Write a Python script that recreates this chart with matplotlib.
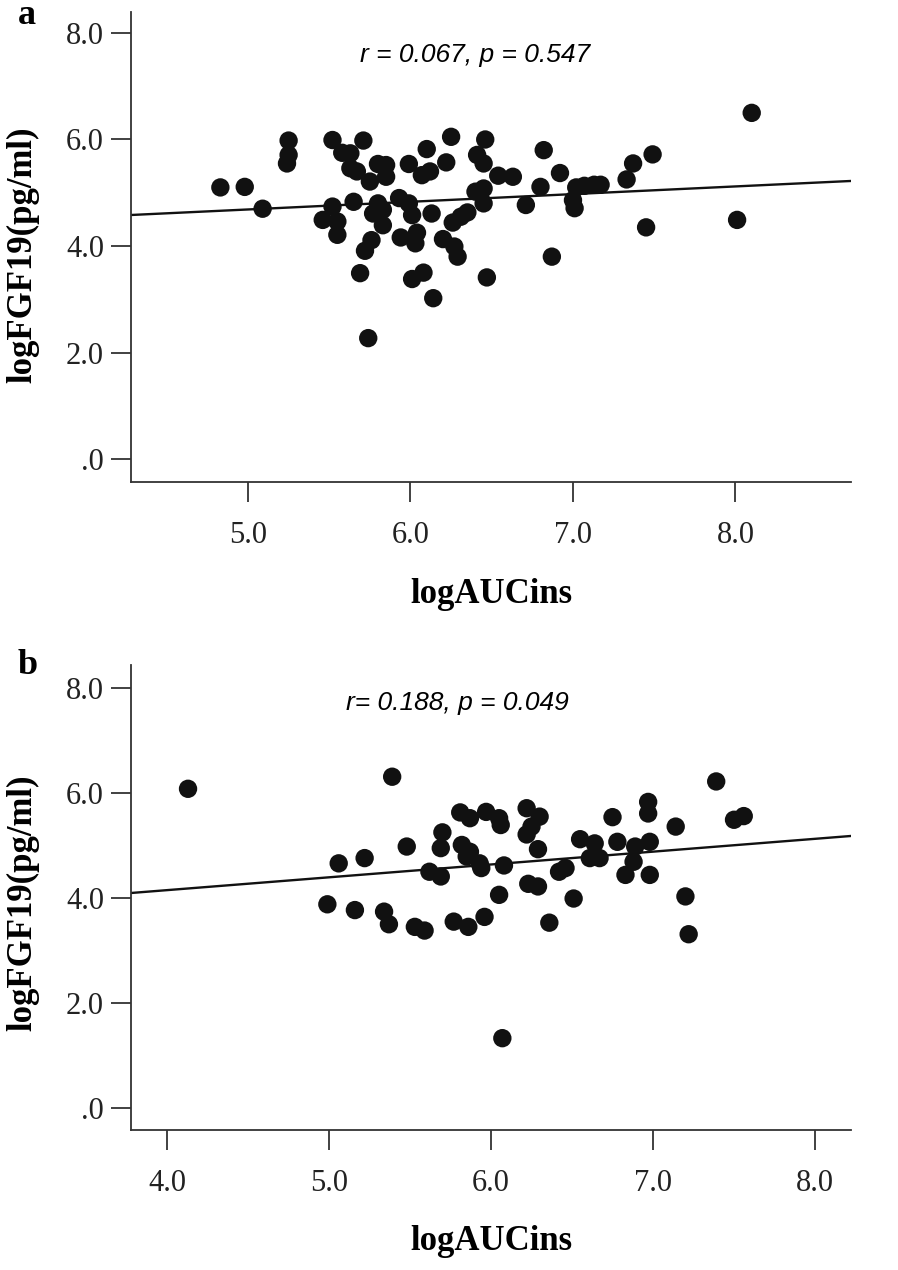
import numpy as np
import matplotlib
matplotlib.use("Agg")
import matplotlib.pyplot as plt

plt.rcParams['font.family'] = ['Liberation Serif', 'DejaVu Serif']

# panel a: logAUCins vs logFGF19
a_x = [4.83, 4.98, 5.09, 5.25, 5.25, 5.24, 5.52, 5.71, 5.58, 5.63,
       5.63, 5.67, 5.75, 5.80, 5.85, 5.85, 5.99, 6.10, 6.07, 6.12,
       6.22, 6.25, 6.46, 6.41, 6.45, 6.40, 6.45, 6.45, 5.52, 5.46,
       5.55, 5.55, 5.65, 5.80, 5.77, 5.83, 5.83, 5.93, 5.99, 6.01,
       6.13, 6.26, 6.31, 6.35, 5.76, 5.72, 5.94, 6.04, 6.03, 6.20,
       6.27, 6.29, 5.69, 6.01, 6.08, 6.14, 6.47, 5.74, 6.82, 6.54,
       6.63, 6.92, 6.80, 6.71, 7.02, 7.00, 7.01, 7.07, 7.13, 7.17,
       7.33, 7.37, 7.49, 7.45, 6.87, 8.01, 8.10]
a_y = [5.10, 5.11, 4.70, 5.98, 5.71, 5.55, 5.99, 5.98, 5.75, 5.74,
       5.46, 5.40, 5.21, 5.54, 5.52, 5.30, 5.54, 5.82, 5.33, 5.40,
       5.57, 6.05, 6.00, 5.71, 5.55, 5.02, 5.08, 4.80, 4.74, 4.49,
       4.46, 4.21, 4.83, 4.80, 4.61, 4.68, 4.39, 4.90, 4.80, 4.58,
       4.61, 4.44, 4.55, 4.63, 4.11, 3.91, 4.16, 4.25, 4.05, 4.13,
       3.99, 3.80, 3.49, 3.38, 3.50, 3.02, 3.41, 2.27, 5.80, 5.32,
       5.30, 5.37, 5.11, 4.77, 5.10, 4.86, 4.71, 5.13, 5.15, 5.15,
       5.25, 5.55, 5.72, 4.35, 3.80, 4.49, 6.50]

# panel b
b_x = [4.13, 5.39, 5.06, 5.22, 5.48, 5.70, 5.69, 5.81, 5.87, 5.97,
       5.82, 5.87, 5.85, 5.93, 5.94, 5.62, 5.69, 4.99, 5.16, 5.34,
       5.37, 5.53, 5.59, 5.77, 5.86, 5.96, 6.07, 6.05, 6.06, 6.08,
       6.05, 6.22, 6.30, 6.25, 6.22, 6.29, 6.23, 6.29, 6.36, 6.42,
       6.46, 6.51, 6.55, 6.64, 6.61, 6.67, 6.75, 6.78, 6.89, 6.88,
       6.83, 6.97, 6.97, 6.98, 6.98, 7.14, 7.20, 7.22, 7.39, 7.50,
       7.56]
b_y = [6.08, 6.31, 4.66, 4.76, 4.98, 5.25, 4.95, 5.63, 5.52, 5.64,
       5.01, 4.88, 4.79, 4.66, 4.57, 4.50, 4.41, 3.88, 3.77, 3.74,
       3.50, 3.45, 3.38, 3.55, 3.45, 3.64, 1.33, 5.52, 5.39, 4.62,
       4.06, 5.71, 5.55, 5.36, 5.21, 4.93, 4.27, 4.22, 3.53, 4.50,
       4.57, 3.99, 5.12, 5.04, 4.76, 4.76, 5.54, 5.07, 4.98, 4.69,
       4.44, 5.83, 5.61, 5.07, 4.44, 5.36, 4.03, 3.31, 6.22, 5.49,
       5.56]

# fit lines (intercept, slope)
a_fit = (3.965, 0.1442)
b_fit = (3.172, 0.2444)

a_text = "r = 0.067, p = 0.547"
b_text = "r= 0.188, p = 0.049"

a_xticks = [5.0, 6.0, 7.0, 8.0]
b_xticks = [4.0, 5.0, 6.0, 7.0, 8.0]
yticks = [0.0, 2.0, 4.0, 6.0, 8.0]
ytick_labels = [".0", "2.0", "4.0", "6.0", "8.0"]

W, H = 898, 1270
fig = plt.figure(figsize=(W / 100, H / 100), dpi=100)

ax_a = fig.add_axes([131 / W, 1 - 481.7 / H, 720 / W, 469.7 / H])
ax_b = fig.add_axes([131 / W, 1 - 1130 / H, 720 / W, 465 / H])

dark = '#333333'


def style(ax, xs, ys, fit, xticks, xlim, ylim, ylab_y):
    ax.scatter(xs, ys, s=175, color='#111111', edgecolors='none', zorder=3)
    lx = np.array(xlim)
    ax.plot(lx, fit[0] + fit[1] * lx, color='#111111', lw=1.7, zorder=2)
    ax.set_xlim(xlim)
    ax.set_ylim(ylim)
    ax.set_xticks(xticks)
    ax.set_xticklabels(["%.1f" % t for t in xticks])
    ax.set_yticks(yticks)
    ax.set_yticklabels(ytick_labels)
    for s in ['top', 'right']:
        ax.spines[s].set_visible(False)
    for s in ['left', 'bottom']:
        ax.spines[s].set_linewidth(1.3)
        ax.spines[s].set_color(dark)
    ax.tick_params(axis='both', direction='out', length=14.4, width=1.3,
                   color=dark, labelsize=22, labelcolor='#222222')
    ax.tick_params(axis='x', pad=14)
    ax.tick_params(axis='y', pad=5)
    ax.set_xlabel("logAUCins", fontsize=25, fontweight='bold')
    ax.set_ylabel("logFGF19(pg/ml)", fontsize=25, fontweight='bold')
    ax.xaxis.set_label_coords(0.5, -0.205)
    ax.yaxis.set_label_coords(-0.127, ylab_y)


style(ax_a, a_x, a_y, a_fit, a_xticks, (4.28, 8.711), (-0.426, 8.394), 0.483)
style(ax_b, b_x, b_y, b_fit, b_xticks, (3.778, 8.222), (-0.419, 8.438), 0.488)

fig.text(475 / W, 1 - 55 / H, a_text, ha='center', va='center', fontsize=19,
         style='italic', family=['Liberation Sans Narrow', 'Liberation Sans', 'DejaVu Sans'])
fig.text(457 / W, 1 - 703 / H, b_text, ha='center', va='center', fontsize=19,
         style='italic', family=['Liberation Sans Narrow', 'Liberation Sans', 'DejaVu Sans'])

fig.text(27 / W, 1 - 16 / H, "a", ha='center', va='center', fontsize=26, fontweight='bold')
fig.text(28 / W, 1 - 665 / H, "b", ha='center', va='center', fontsize=26, fontweight='bold')

fig.savefig("out.png", dpi=100)
